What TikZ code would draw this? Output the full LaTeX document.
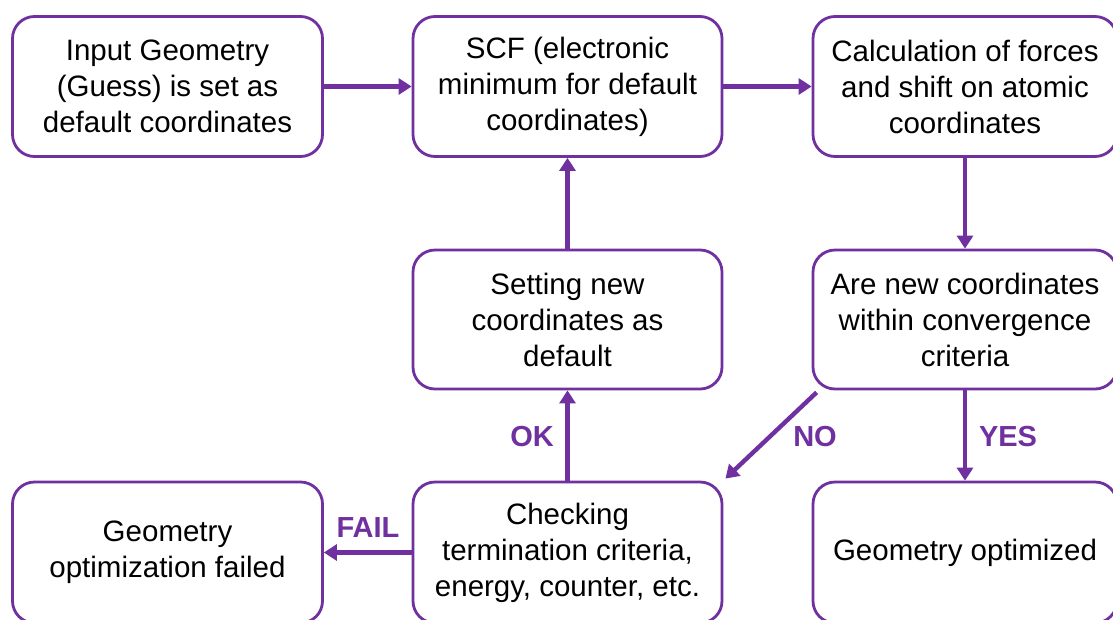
\documentclass[tikz,border=0pt]{standalone}
\usepackage{fontspec}
\setmainfont{Liberation Sans}
\usetikzlibrary{arrows.meta}
\definecolor{flowpurple}{HTML}{7030A0}
\begin{document}
\begin{tikzpicture}[x=1pt,y=-1pt,
  stepbox/.style={draw=flowpurple, line width=2.8pt, rounded corners=22pt,
    fill=white, minimum height=140pt, align=center, inner sep=0pt,
    font=\fontsize{29.5}{36}\selectfont},
  flow/.style={draw=flowpurple, line width=4.4pt,
    -{Triangle[length=13pt,width=16pt]}},
  tag/.style={text=flowpurple, font=\fontsize{29}{32}\selectfont\bfseries}]
\useasboundingbox (0,0) rectangle (1113,619);

% top row
\node[stepbox, minimum width=310pt] (input) at (167.5,86.5)
  {Input Geometry\\(Guess) is set as\\default coordinates};
\node[stepbox, minimum width=309pt] (scf) at (567.5,86.5)
  {SCF (electronic\\minimum for default\\coordinates)};
\node[stepbox, minimum width=304pt] (calc) at (965,86.5)
  {Calculation of forces\\and shift on atomic\\coordinates};

% middle row
\node[stepbox, minimum width=309pt, minimum height=139pt] (setnew) at (567.5,319.5)
  {Setting new\\coordinates as\\default};
\node[stepbox, minimum width=304pt, minimum height=139pt] (conv) at (965,319.5)
  {Are new coordinates\\within convergence\\criteria};

% bottom row
\node[stepbox, minimum width=310pt, minimum height=141pt] (failed) at (167.5,552.5)
  {Geometry\\optimization failed};
\node[stepbox, minimum width=309pt, minimum height=141pt] (check) at (567.5,552.5)
  {Checking\\termination criteria,\\energy, counter, etc.};
\node[stepbox, minimum width=304pt, minimum height=141pt] (done) at (965,552.5)
  {Geometry optimized};

% connectors
\draw[flow] (input) -- (scf);
\draw[flow] (scf) -- (calc);
\draw[flow] (calc) -- (conv);
\draw[flow] (setnew) -- (scf);
\draw[flow] (check) -- (setnew);
\draw[flow] (conv) -- (done);
\draw[flow] (check) -- (failed);
\draw[flow] ([xshift=5pt,yshift=-2pt]conv.south west)
  -- ([xshift=2pt,yshift=2pt]check.north east);

% branch labels
\node[tag] (ok) at (532,437) {OK};
\node[tag] (no) at (815,437) {NO};
\node[tag] (yes) at (1008,437) {YES};
\node[tag] (fail) at (368,528) {FAIL};
\end{tikzpicture}
\end{document}
